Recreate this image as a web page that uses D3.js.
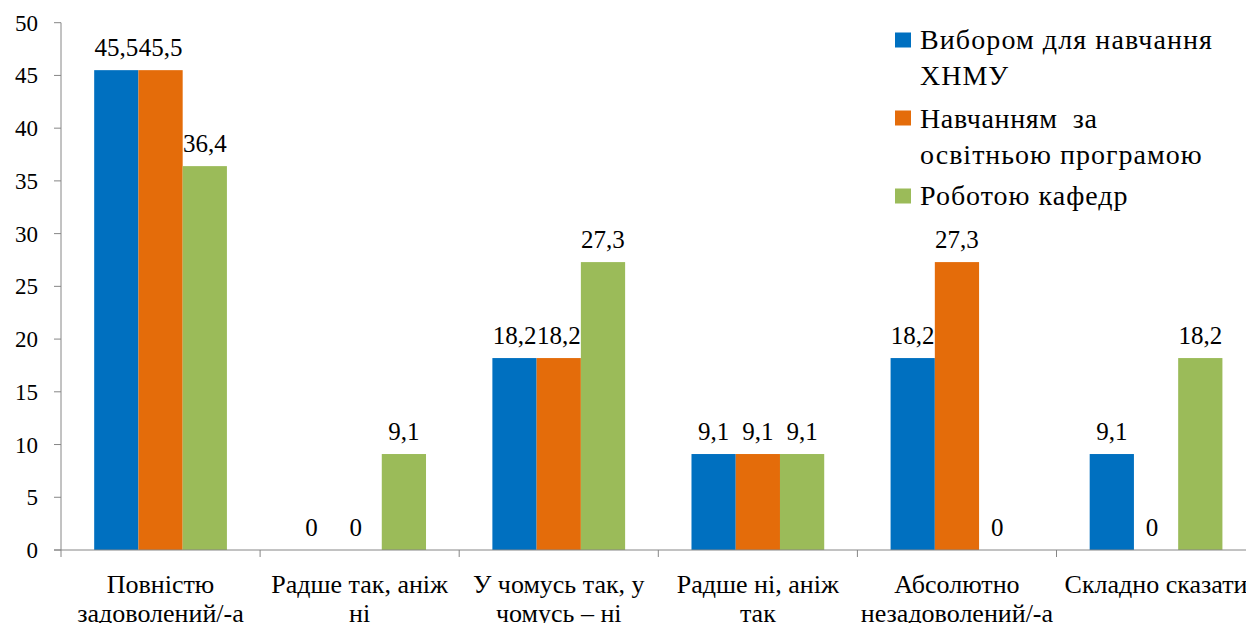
<!DOCTYPE html>
<html>
<head>
<meta charset="utf-8">
<script src="https://cdn.jsdelivr.net/npm/d3@7"></script>
</head>
<body style="margin:0; background:#fff; overflow:hidden">
<svg id="chart" width="1246" height="623" font-family="Liberation Serif"></svg>
<script>
// categories (each split into label lines)
var categories = [
    ["Повністю", "задоволений/-а"],
    ["Радше так, аніж", "ні"],
    ["У чомусь так, у", "чомусь – ні"],
    ["Радше ні, аніж", "так"],
    ["Абсолютно", "незадоволений/-а"],
    ["Складно сказати"]
];
var seriesNames = [
    ["Вибором для навчання", "ХНМУ"],
    ["Навчанням  за", "освітньою програмою"],
    ["Роботою кафедр"]
];
var seriesColors = ["#0070C0", "#E46C0A", "#9BBB59"];

var vybor    = [45.5, 0, 18.2, 9.1, 18.2, 9.1];
var navchann = [45.5, 0, 18.2, 9.1, 27.3, 0];
var kafedr   = [36.4, 9.1, 27.3, 9.1, 0, 18.2];
var seriesValues = [vybor, navchann, kafedr];

var yTicks = [0, 5, 10, 15, 20, 25, 30, 35, 40, 45, 50];

var svg = d3.select("#chart");
var margin = { left: 61, top: 22.7, bottom: 73 };
var bandW = 199.1;
var height = 623;

function addText(px, py, str, size, anchor) {
    return svg.append("text")
        .attr("x", px)
        .attr("y", py)
        .attr("text-anchor", anchor || "start")
        .attr("font-family", "Liberation Serif")
        .attr("font-size", size)
        .attr("fill", "#000")
        .text(str);
}

var x = d3.scaleBand()
    .domain(d3.range(categories.length))
    .range([margin.left, margin.left + bandW * categories.length])
    .paddingInner(0).paddingOuter(0);

var xs = d3.scaleBand()
    .domain(d3.range(seriesValues.length))
    .range([0, bandW])
    .paddingInner(0)
    .paddingOuter(0.75);

var y = d3.scaleLinear().domain([0, 50]).range([height - margin.bottom, margin.top]);

var axisColor = "#868686";

// y axis
svg.append("line")
    .attr("x1", margin.left).attr("x2", margin.left)
    .attr("y1", y(50)).attr("y2", y(0))
    .style("stroke", axisColor).style("stroke-width", 1);

yTicks.forEach(function (t) {
    svg.append("line")
        .attr("x1", margin.left - 7).attr("x2", margin.left)
        .attr("y1", y(t)).attr("y2", y(t))
        .style("stroke", axisColor).style("stroke-width", 1);
    addText(38, y(t) + 8, t, 23, "end");
});

// bars
seriesValues.forEach(function (vals, s) {
    vals.forEach(function (v, i) {
        var bx = x(i) + xs(s);
        if (v > 0) {
            svg.append("rect")
                .attr("x", bx)
                .attr("y", y(v))
                .attr("width", xs.bandwidth())
                .attr("height", y(0) - y(v))
                .style("fill", seriesColors[s]);
        }
        addText(bx + xs.bandwidth() / 2 - (v == 0 ? 4 : 0), y(v) - 14,
            String(v).replace(".", ","), 25, "middle");
    });
});

// x axis
svg.append("line")
    .attr("x1", margin.left - 7).attr("x2", 1246)
    .attr("y1", y(0)).attr("y2", y(0))
    .style("stroke", axisColor).style("stroke-width", 1);

d3.range(categories.length + 1).forEach(function (i) {
    var tx = margin.left + i * bandW;
    svg.append("line")
        .attr("x1", tx).attr("x2", tx)
        .attr("y1", y(0)).attr("y2", y(0) + 7)
        .style("stroke", axisColor).style("stroke-width", 1);
});

categories.forEach(function (lines, i) {
    lines.forEach(function (ln, k) {
        addText(x(i) + bandW / 2, 593 + k * 29, ln, 26, "middle");
    });
});

// legend
var legendY = [40, 118, 196];
var legendBase = [49, 128, 205];
seriesNames.forEach(function (lines, s) {
    svg.append("rect")
        .attr("x", 895).attr("y", legendY[s] - 7.5)
        .attr("width", 16).attr("height", 15)
        .style("fill", seriesColors[s]);
    lines.forEach(function (ln, k) {
        var t = addText(920, legendBase[s] + k * 36, ln, 28, "start")
            .style("white-space", "pre")
            .style("letter-spacing", "1px");
        if (lines.length > 1 && k == 0) {
            t.attr("textLength", s == 0 ? 293 : 178).attr("lengthAdjust", "spacing");
        }
    });
});
</script>
</body>
</html>
